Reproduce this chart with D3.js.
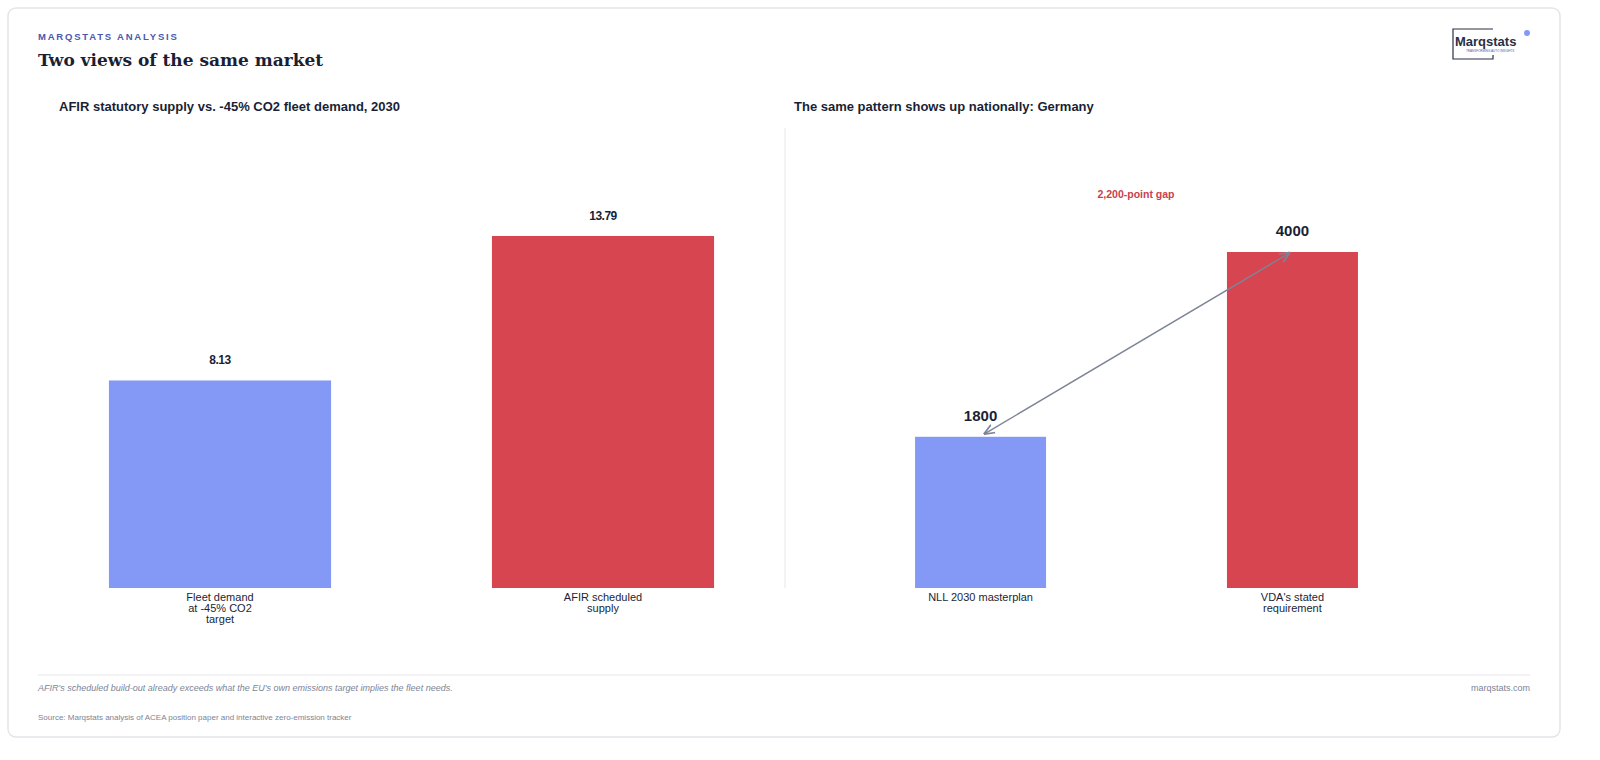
<!DOCTYPE html>
<html><head><meta charset="utf-8">
<script src="https://cdn.jsdelivr.net/npm/d3@7"></script>
<style>
html,body{margin:0;padding:0;overflow:hidden;background:#fff;font-family:"Liberation Sans",Arial,sans-serif;}
svg{display:block;}
</style></head><body>
<svg id="c" width="1600" height="760"></svg>
<script>
var leftCats = ["Fleet demand|at -45% CO2|target", "AFIR scheduled|supply"];
var leftVals = [8.13, 13.79];
var rightCats = ["NLL 2030 masterplan", "VDA's stated|requirement"];
var rightVals = [1800, 4000];
var colors = ["#8499f5", "#d64550"];

var svg = d3.select("#c");
svg.append("rect").attr("x", 8).attr("y", 8).attr("width", 1552).attr("height", 729)
  .attr("rx", 8).attr("fill", "#fff").attr("stroke", "#e3e5ea").attr("stroke-width", 1.5);

svg.append("text").attr("x", 38).attr("y", 40).text("MARQSTATS ANALYSIS")
  .attr("font-size", 9.5).attr("font-weight", "bold").attr("letter-spacing", 1.8).attr("fill", "#4a58b0");
svg.append("text").attr("x", 38).attr("y", 66).text("Two views of the same market")
  .attr("font-family", "DejaVu Serif").attr("font-size", 17).attr("font-weight", "bold").attr("fill", "#1a1f36");

// logo
var lg = svg.append("g");
lg.append("path").attr("d", "M1493,29 H1453 V59 H1493 V55").attr("fill", "none").attr("stroke", "#2a2f45").attr("stroke-width", 1.2);
lg.append("text").attr("x", 1455).attr("y", 46).text("Marqstats").attr("font-size", 13).attr("font-weight", "bold").attr("fill", "#2a2f45");
lg.append("text").attr("x", 1466).attr("y", 52).text("TRANSFORMING AUTO INSIGHTS").attr("font-size", 3).attr("fill", "#4a58b0");
lg.append("circle").attr("cx", 1527).attr("cy", 33).attr("r", 3).attr("fill", "#8499f5");

svg.append("text").attr("x", 59).attr("y", 111).text("AFIR statutory supply vs. -45% CO2 fleet demand, 2030")
  .attr("font-size", 13).attr("font-weight", "bold").attr("fill", "#1a1f36");
svg.append("text").attr("x", 794).attr("y", 111).text("The same pattern shows up nationally: Germany")
  .attr("font-size", 13).attr("font-weight", "bold").attr("fill", "#1a1f36");
svg.append("line").attr("x1", 785).attr("x2", 785).attr("y1", 128).attr("y2", 588).attr("stroke", "#e6e7eb");

function panel(cats, vals, xr, pi, po, ymax, fmt, lblSize) {
  var x = d3.scaleBand().domain(cats).range(xr).paddingInner(pi).paddingOuter(po);
  var y = d3.scaleLinear().domain([0, ymax]).range([588, 128]);
  var g = svg.append("g");
  g.selectAll("rect").data(cats).join("rect")
    .attr("x", d => x(d)).attr("width", x.bandwidth())
    .attr("y", (d, i) => y(vals[i])).attr("height", (d, i) => 588 - y(vals[i]))
    .attr("fill", (d, i) => colors[i]);
  g.selectAll("text.v").data(cats).join("text").attr("class", "v")
    .attr("x", d => x(d) + x.bandwidth() / 2).attr("y", (d, i) => y(vals[i]) - 16)
    .attr("text-anchor", "middle").attr("font-size", lblSize).attr("font-weight", "bold")
    .attr("letter-spacing", lblSize < 13 ? -0.5 : 0).attr("fill", "#1a1f36")
    .text((d, i) => fmt(vals[i]));
  cats.forEach(function (c) {
    var t = g.append("text").attr("text-anchor", "middle").attr("font-size", 11).attr("fill", "#1a1f36");
    c.split("|").forEach(function (l, j) {
      t.append("tspan").attr("x", x(c) + x.bandwidth() / 2).attr("y", 601 + j * 11).text(l);
    });
  });
  return {x: x, y: y};
}
panel(leftCats, leftVals, [40, 783], 0.42, 0.18, 18.02, d => d.toFixed(2), 12);
var r = panel(rightCats, rightVals, [785, 1488], 0.58, 0.417, 5476, d => d, 15);

svg.append("defs").selectAll("marker").data(["s", "e"]).join("marker")
  .attr("id", d => "m" + d).attr("viewBox", "0 0 10 10").attr("refX", 9).attr("refY", 5)
  .attr("markerWidth", 8).attr("markerHeight", 8).attr("orient", "auto-start-reverse")
  .append("path").attr("d", "M0,1 L10,5 L0,9").attr("fill", "none").attr("stroke", "#7d8497").attr("stroke-width", 1.5);
var x0 = r.x(rightCats[0]) + r.x.bandwidth() / 2 + 4, x1 = r.x(rightCats[1]) + r.x.bandwidth() / 2 - 3;
svg.append("line").attr("x1", x0).attr("y1", r.y(rightVals[0]) - 3).attr("x2", x1).attr("y2", r.y(rightVals[1]) + 1)
  .attr("stroke", "#7d8497").attr("stroke-width", 1.4)
  .attr("marker-start", "url(#ms)").attr("marker-end", "url(#me)");
svg.append("text").attr("x", 1136).attr("y", 198).attr("text-anchor", "middle")
  .attr("font-size", 10.5).attr("font-weight", "bold").attr("fill", "#c8414c")
  .text("2,200-point gap");

svg.append("line").attr("x1", 38).attr("x2", 1530).attr("y1", 675).attr("y2", 675).attr("stroke", "#e6e7eb");
svg.append("text").attr("x", 38).attr("y", 691).attr("font-size", 9).attr("font-style", "italic").attr("fill", "#7d8497")
  .text("AFIR's scheduled build-out already exceeds what the EU's own emissions target implies the fleet needs.");
svg.append("text").attr("x", 1530).attr("y", 691).attr("text-anchor", "end").attr("font-size", 9).attr("fill", "#7d8497").text("marqstats.com");
svg.append("text").attr("x", 38).attr("y", 720).attr("font-size", 8).attr("fill", "#7d8497")
  .text("Source: Marqstats analysis of ACEA position paper and interactive zero-emission tracker");
</script></body></html>
